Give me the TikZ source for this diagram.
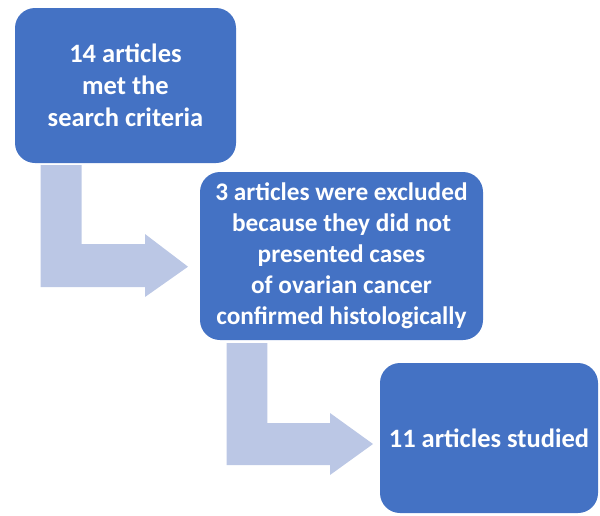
\documentclass[tikz,border=0pt]{standalone}
\usepackage{fontspec}
\setmainfont{Carlito}
\begin{document}
\begin{tikzpicture}[x=1pt, y=-1pt]
            \definecolor{Boxcolor}{RGB}{68, 114, 196}
            \definecolor{Arrowcolor}{RGB}{187, 199, 229}
            \def\boxradius{20pt}
            \tikzset{stepbox/.style={shape=rectangle, fill=Boxcolor, rounded corners=\boxradius, inner sep=0pt,
                text=white, align=center, font=\fontsize{26.5}{32}\selectfont\bfseries}}
            \useasboundingbox (0, 0) rectangle (600, 515);
            % bent arrows behind the boxes
            \fill[Arrowcolor] (40.7, 165) -- (81.7, 165) -- (81.7, 244) -- (145, 244) -- (145, 234) -- (188, 266.7)
                -- (145, 297) -- (145, 287) -- (40.7, 287) -- cycle;
            \fill[Arrowcolor] (226.7, 343) -- (267.3, 343) -- (267.3, 423) -- (330, 423) -- (330, 413) -- (373, 444)
                -- (330, 475) -- (330, 465) -- (226.7, 465) -- cycle;
            \node[stepbox, minimum width=221pt, minimum height=155pt] (S1) at (125.5, 85.5) {14 articles\\met the\\search criteria};
            \node[stepbox, minimum width=283pt, minimum height=168pt, font=\fontsize{25.3}{31}\selectfont\bfseries] (S2) at (341.5, 256) {3 articles were excluded\\because they did not\\presented cases\\of ovarian cancer\\confirmed histologically};
            \node[stepbox, minimum width=218pt, minimum height=150pt] (S3) at (489, 438) {\raisebox{-3pt}{11 articles studied}};
        \end{tikzpicture}
\end{document}
